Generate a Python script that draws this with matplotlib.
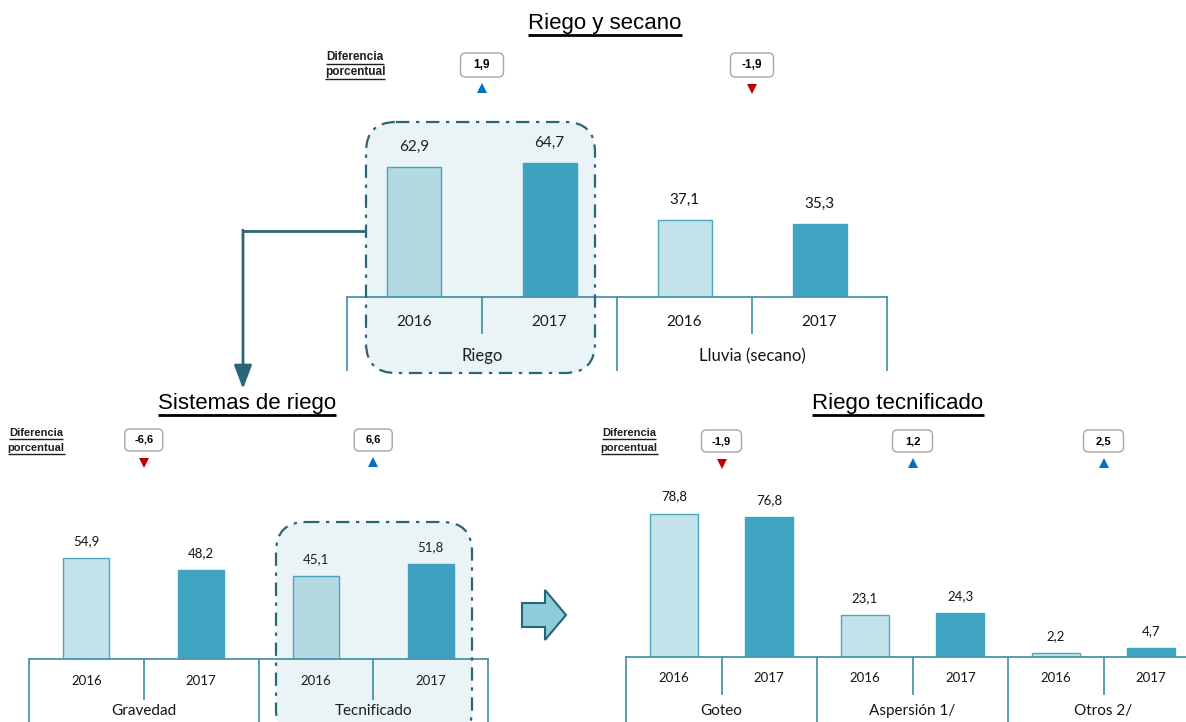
import matplotlib.pyplot as plt
import matplotlib.patches as mpatches

W, H = 1186, 722

years = ["2016", "2017"]

top_groups = ["Riego", "Lluvia (secano)"]
top_2016 = [62.9, 37.1]
top_2017 = [64.7, 35.3]
top_diff = [1.9, -1.9]

sis_groups = ["Gravedad", "Tecnificado"]
sis_2016 = [54.9, 45.1]
sis_2017 = [48.2, 51.8]
sis_diff = [-6.6, 6.6]

tec_groups = ["Goteo", "Aspersión 1/", "Otros 2/"]
tec_2016 = [78.8, 23.1, 2.2]
tec_2017 = [76.8, 24.3, 4.7]
tec_diff = [-1.9, 1.2, 2.5]

LIGHT = "#C2E3EA"
LIGHT_EDGE = "#4DA6BE"
DARK = "#3FA4C2"
AXIS_C = "#4A96AA"
LINE_C = "#2B6677"
TXT = "#151515"
LABEL_FONT = ["Lato", "DejaVu Sans"]
ARIAL = ["Liberation Sans Narrow", "Liberation Sans"]

fig = plt.figure(figsize=(W / 100, H / 100), dpi=100)

# overlay in pixel coords (y downwards) for the decorations
ov = fig.add_axes([0, 0, 1, 1], zorder=5)
ov.set_xlim(0, W)
ov.set_ylim(H, 0)
ov.axis("off")


def fmt(v):
    return f"{v:.1f}".replace(".", ",")


def panel(x0, x1, ybase, scale, groups, v16, v17, bar_w, yr_off, grp_off,
          short_len, long_len, fs_yr, fs_grp, fs_val, val_off):
    ax = fig.add_axes([x0 / W, 1 - ybase / H, (x1 - x0) / W, 100 * scale / H])
    n = len(groups) * 2
    ax.set_xlim(0, n)
    ax.set_ylim(0, 100)
    ax.axis("off")

    xs16 = [2 * i + 0.5 for i in range(len(groups))]
    xs17 = [2 * i + 1.5 for i in range(len(groups))]
    ax.bar(xs16, v16, width=bar_w, color=LIGHT, edgecolor=LIGHT_EDGE, linewidth=1)
    ax.bar(xs17, v17, width=bar_w, color=DARK, edgecolor=DARK, linewidth=1)
    for x, v in list(zip(xs16, v16)) + list(zip(xs17, v17)):
        ax.annotate(fmt(v), (x, v), xytext=(0, val_off), textcoords="offset pixels",
                    ha="center", va="center", fontsize=fs_val, color=TXT,
                    family=LABEL_FONT)

    # two-level category axis
    tr = ax.get_xaxis_transform()
    hpx = ax.bbox.height

    def fy(px):
        return -px / hpx

    ax.plot([0, n], [0, 0], transform=tr, color=AXIS_C, lw=1.3, clip_on=False)
    for k in range(n + 1):
        ln = long_len if k % 2 == 0 else short_len
        ax.plot([k, k], [0, fy(ln)], transform=tr, color=AXIS_C, lw=1.3, clip_on=False)
    for k in range(n):
        ax.text(k + 0.5, fy(yr_off), years[k % 2], transform=tr, ha="center",
                va="center", fontsize=fs_yr, color=TXT, family=LABEL_FONT)
    for i, g in enumerate(groups):
        ax.text(2 * i + 1, fy(grp_off), g, transform=tr, ha="center", va="center",
                fontsize=fs_grp, color=TXT, family=LABEL_FONT)
    return ax


def diff_row(ax, diffs, ybox, ytri, bw, bh, fs, lab_x, lab_y):
    for i, d in enumerate(diffs):
        cx = ax.transData.transform((2 * i + 1, 0))[0]
        ov.add_patch(mpatches.FancyBboxPatch((cx - bw / 2, ybox - bh / 2), bw, bh,
                                             boxstyle="round,pad=0,rounding_size=5",
                                             fc="white", ec="#A6A6A6", lw=1))
        ov.text(cx, ybox, fmt(d), ha="center", va="center", fontsize=fs,
                fontweight="bold", family=ARIAL, color="black")
        if d >= 0:
            ov.plot(cx, ytri, marker="^", color="#0070C0", ms=6.5, mew=0)
        else:
            ov.plot(cx, ytri + 1, marker="v", color="#C00000", ms=6.5, mew=0)
    for j, s in enumerate(["Diferencia", "porcentual"]):
        ov.text(lab_x, lab_y + j * 15, s, ha="center", va="center", fontsize=fs,
                fontweight="bold", family=ARIAL, color="#1E1E1E")


ax_top = panel(347, 887, 297, 2.067, top_groups, top_2016, top_2017, 0.4,
               25, 59, 36, 73, 11, 12, 11, 20)
ax_sis = panel(29, 488, 659, 1.84, sis_groups, sis_2016, sis_2017, 0.4,
               22, 52, 40, 70, 9.5, 11, 9.5, 17)
ax_tec = panel(626, 1199, 657, 1.82, tec_groups, tec_2016, tec_2017, 0.5,
               21, 54, 37, 70, 9.5, 11, 9.5, 17)

diff_row(ax_top, top_diff, 65, 88, 43, 24, 8.5, 355, 57)
diff_row(ax_sis, sis_diff, 440, 462, 38, 22, 8, 36, 433)
diff_row(ax_tec, tec_diff, 441, 463, 40, 22, 8, 629, 433)

# highlight boxes (dash-dot, rounded, light tint)
for (bx0, by0, bx1, by1) in [(366, 122, 595, 373), (276, 522, 472, 740)]:
    ov.add_patch(mpatches.FancyBboxPatch((bx0, by0), bx1 - bx0, by1 - by0,
                                         boxstyle="round,pad=0,rounding_size=30",
                                         fc=(0.2, 0.55, 0.65, 0.1), ec=LINE_C,
                                         lw=1.6, ls=(0, (6, 3, 1.5, 3))))

# connector arrow from the Riego box down to the lower-left panel
ov.plot([366, 243], [231, 231], color=LINE_C, lw=2, solid_capstyle="butt")
ov.annotate("", xy=(243, 389), xytext=(243, 230),
            arrowprops=dict(arrowstyle="-|>,head_length=0.8,head_width=0.3",
                            color=LINE_C, lw=2, mutation_scale=18, shrinkA=0, shrinkB=0))

# block arrow between lower panels
ov.add_patch(mpatches.Polygon([(522, 603), (545, 603), (545, 590), (566, 615),
                               (545, 640), (545, 627), (522, 627)],
                              closed=True, fc="#8ECCDA", ec="#23687A", lw=1.5))

# titles with underline
titles = [("Riego y secano", 605, 24), ("Sistemas de riego", 247, 404),
          ("Riego tecnificado", 898, 404)]
tobjs = []
for s, x, y in titles:
    tobjs.append(ov.text(x, y, s, ha="center", va="center", fontsize=16,
                         family="Liberation Sans", color="black"))

fig.canvas.draw()
r = fig.canvas.get_renderer()
for t in tobjs:
    bb = t.get_window_extent(r)
    yb = H - bb.y0
    ov.plot([bb.x0, bb.x1], [yb, yb], color="black", lw=2, solid_capstyle="butt")
for t in ov.texts:
    if t.get_text() in ("Diferencia", "porcentual"):
        bb = t.get_window_extent(r)
        yb = H - bb.y0 + 0.5
        ov.plot([bb.x0, bb.x1], [yb, yb], color="#1E1E1E", lw=1, solid_capstyle="butt")

fig.savefig("out.png", dpi=100)
